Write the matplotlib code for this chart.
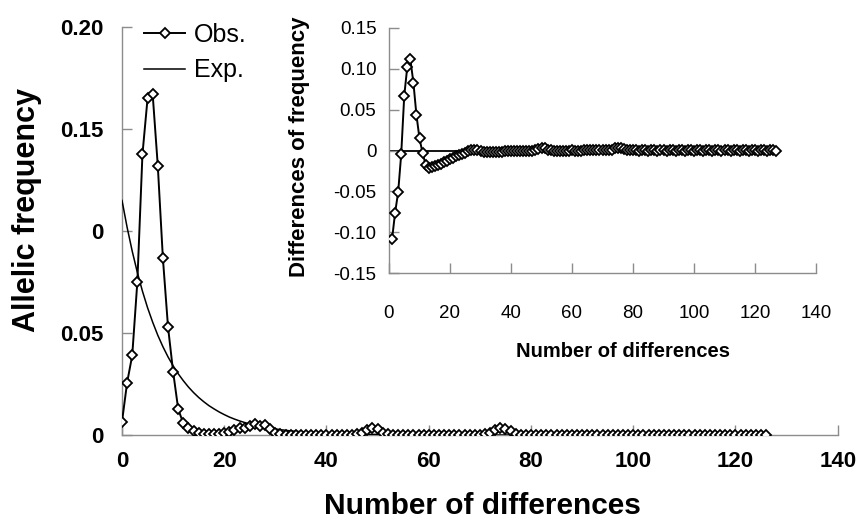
import matplotlib
matplotlib.use('Agg')
import matplotlib.pyplot as plt

plt.rcParams['font.family'] = ['Liberation Sans', 'DejaVu Sans']

# ---- data ----
x_main = list(range(0, 127))
obs = [
    0.0065, 0.0257, 0.0390, 0.0750, 0.1376, 0.1650, 0.1670, 0.1320, 0.0866, 0.0530,
    0.0310, 0.0126, 0.0057, 0.0035, 0.0020, 0.0008, 0.0003, 0.0003, 0.0004, 0.0006,
    0.0010, 0.0015, 0.0025, 0.0032, 0.0036, 0.0042, 0.0055, 0.0045, 0.0048, 0.0030,
    0.0012, 0.0004, 0.0002, 0.0001, 0.0001, 0.0002, 0.0001, 0.0001, 0.0002, 0.0001,
    0.0001, 0.0002, 0.0001, 0.0001, 0.0002, 0.0002, 0.0004, 0.0010, 0.0025, 0.0032,
    0.0028, 0.0012, 0.0004, 0.0002, 0.0001, 0.0002, 0.0001, 0.0001, 0.0001, 0.0002,
    0.0001, 0.0001, 0.0001, 0.0001, 0.0002, 0.0001, 0.0001, 0.0001, 0.0002, 0.0001,
    0.0002, 0.0005, 0.0010, 0.0025, 0.0035, 0.0028, 0.0020, 0.0006, 0.0002, 0.0001,
    0.0001, 0.0000, 0.0001, 0.0001, 0.0000, 0.0001, 0.0001, 0.0000, 0.0001, 0.0001,
    0.0000, 0.0001, 0.0001, 0.0000, 0.0001, 0.0001, 0.0000, 0.0001, 0.0001, 0.0000,
    0.0001, 0.0001, 0.0000, 0.0001, 0.0001, 0.0000, 0.0001, 0.0001, 0.0000, 0.0001,
    0.0001, 0.0000, 0.0001, 0.0001, 0.0000, 0.0001, 0.0001, 0.0000, 0.0001, 0.0001,
    0.0000, 0.0001, 0.0001, 0.0000, 0.0001, 0.0001, 0.0000,
]
exp = [
    0.1150, 0.1018, 0.0901, 0.0797, 0.0705, 0.0624, 0.0553, 0.0489, 0.0433, 0.0383,
    0.0339, 0.0300, 0.0266, 0.0235, 0.0208, 0.0184, 0.0163, 0.0144, 0.0128, 0.0113,
    0.0100, 0.0088, 0.0078, 0.0069, 0.0061, 0.0054, 0.0048, 0.0043, 0.0038, 0.0033,
    0.0030, 0.0026, 0.0023, 0.0020, 0.0018, 0.0016, 0.0014, 0.0013, 0.0011, 0.0010,
    0.0009, 0.0008, 0.0007, 0.0006, 0.0005, 0.0005, 0.0004, 0.0004, 0.0003, 0.0003,
    0.0003, 0.0002, 0.0002, 0.0002, 0.0002, 0.0002, 0.0001, 0.0001, 0.0001, 0.0001,
    0.0001, 0.0001, 0.0001, 0.0000, 0.0000, 0.0000, 0.0000, 0.0000, 0.0000, 0.0000,
    0.0000, 0.0000, 0.0000, 0.0000, 0.0000, 0.0000, 0.0000, 0.0000, 0.0000, 0.0000,
    0.0000, 0.0000, 0.0000, 0.0000, 0.0000, 0.0000, 0.0000, 0.0000, 0.0000, 0.0000,
    0.0000, 0.0000, 0.0000, 0.0000, 0.0000, 0.0000, 0.0000, 0.0000, 0.0000, 0.0000,
    0.0000, 0.0000, 0.0000, 0.0000, 0.0000, 0.0000, 0.0000, 0.0000, 0.0000, 0.0000,
    0.0000, 0.0000, 0.0000, 0.0000, 0.0000, 0.0000, 0.0000, 0.0000, 0.0000, 0.0000,
    0.0000, 0.0000, 0.0000, 0.0000, 0.0000, 0.0000, 0.0000,
]
x_inset = list(range(1, 128))
diff = [
    -0.1085, -0.0761, -0.0511, -0.0047, 0.0671, 0.1026, 0.1117, 0.0831, 0.0433, 0.0147,
    -0.0029, -0.0174, -0.0209, -0.0200, -0.0188, -0.0176, -0.0160, -0.0141, -0.0124, -0.0107,
    -0.0090, -0.0073, -0.0053, -0.0037, -0.0025, -0.0012, 0.0007, 0.0002, 0.0010, -0.0003,
    -0.0018, -0.0022, -0.0021, -0.0019, -0.0017, -0.0014, -0.0013, -0.0012, -0.0009, -0.0009,
    -0.0008, -0.0006, -0.0006, -0.0005, -0.0003, -0.0003, 0.0000, 0.0006, 0.0022, 0.0029,
    0.0025, 0.0010, 0.0002, 0.0000, -0.0001, 0.0000, 0.0000, 0.0000, 0.0000, 0.0001,
    0.0000, 0.0000, 0.0000, 0.0001, 0.0002, 0.0001, 0.0001, 0.0001, 0.0002, 0.0001,
    0.0002, 0.0005, 0.0010, 0.0025, 0.0035, 0.0028, 0.0020, 0.0006, 0.0002, 0.0001,
    0.0001, 0.0000, 0.0001, 0.0001, 0.0000, 0.0001, 0.0001, 0.0000, 0.0001, 0.0001,
    0.0000, 0.0001, 0.0001, 0.0000, 0.0001, 0.0001, 0.0000, 0.0001, 0.0001, 0.0000,
    0.0001, 0.0001, 0.0000, 0.0001, 0.0001, 0.0000, 0.0001, 0.0001, 0.0000, 0.0001,
    0.0001, 0.0000, 0.0001, 0.0001, 0.0000, 0.0001, 0.0001, 0.0000, 0.0001, 0.0001,
    0.0000, 0.0001, 0.0001, 0.0000, 0.0001, 0.0001, 0.0000,
]
main_yticks = [0, 0.05, 0.10, 0.15, 0.20]
main_yticklabels = ['0', '0.05', '0', '0.15', '0.20']
xticks = [0, 20, 40, 60, 80, 100, 120, 140]
inset_yticks = [-0.15, -0.10, -0.05, 0, 0.05, 0.10, 0.15]
inset_yticklabels = ['-0.15', '-0.10', '-0.05', '0', '0.05', '0.10', '0.15']

W, H = 858, 519
fig = plt.figure(figsize=(W / 100, H / 100), dpi=100)
GRAY = '#8c8c8c'

# ---- main axes ----
ax = fig.add_axes([122 / W, 1 - 435 / H, (837.7 - 122) / W, (435 - 27) / H])
l_exp, = ax.plot(x_main, exp, color='black', lw=1.1, label='Exp.', zorder=2)
l_obs, = ax.plot(x_main, obs, color='black', lw=1.4, marker='D', ms=4.8,
                 mfc='white', mec='black', mew=1.3, label='Obs.', zorder=3)
ax.set_xlim(0, 140)
ax.set_ylim(0, 0.20)
ax.set_xticks(xticks)
ax.set_xticklabels([str(t) for t in xticks], fontweight='bold', fontsize=16)
ax.set_yticks(main_yticks)
ax.set_yticklabels(main_yticklabels, fontweight='bold', fontsize=16)
for s in ['top', 'right']:
    ax.spines[s].set_visible(False)
for s in ['left', 'bottom']:
    ax.spines[s].set_color(GRAY)
    ax.spines[s].set_linewidth(1.0)
ax.tick_params(axis='both', direction='in', length=7, width=1.0, color=GRAY)
ax.tick_params(axis='x', pad=11.5)
ax.tick_params(axis='y', pad=13.5)
for sp in ax.spines.values():
    sp.set_zorder(1)

leg = ax.legend(handles=[l_obs, l_exp], loc='upper left',
                bbox_to_anchor=(144 / W, 1 - 23 / H), bbox_transform=fig.transFigure,
                frameon=False, fontsize=18, handlelength=1.65, handletextpad=0.35,
                labelspacing=0.45, borderpad=0, borderaxespad=0)

fig.text(27.5 / W, 1 - 210 / H, 'Allelic frequency', rotation=90, ha='center',
         va='center', fontsize=22, fontweight='bold')
fig.text(482.5 / W, 1 - 513.5 / H, 'Number of differences', ha='center',
         va='baseline', fontsize=21.5, fontweight='bold')

# ---- inset axes ----
ax2 = fig.add_axes([389 / W, 1 - 273 / H, (816 - 389) / W, (273 - 28) / H])
ax2.patch.set_alpha(0)
ax2.hlines(0, 0, x_inset[-1], color='black', lw=1.3, zorder=1)
ax2.plot(x_inset, diff, color='black', lw=1.4, marker='D', ms=4.8,
         mfc='white', mec='black', mew=1.3, zorder=3)
ax2.set_xlim(0, 140)
ax2.set_ylim(-0.15, 0.15)
ax2.set_xticks(xticks)
ax2.set_xticklabels([str(t) for t in xticks], fontsize=13.5)
ax2.set_yticks(inset_yticks)
ax2.set_yticklabels(inset_yticklabels, fontsize=13.5)
for s in ['top', 'right']:
    ax2.spines[s].set_visible(False)
for s in ['left', 'bottom']:
    ax2.spines[s].set_color(GRAY)
    ax2.spines[s].set_linewidth(1.0)
ax2.tick_params(axis='both', direction='in', length=7, width=1.0, color=GRAY)
ax2.tick_params(axis='x', pad=23)
ax2.tick_params(axis='y', pad=9)

fig.text(300 / W, 1 - 146.5 / H, 'Differences of frequency', rotation=90,
         ha='center', va='center', fontsize=16, fontweight='bold')
fig.text(623.5 / W, 1 - 356.7 / H, 'Number of differences', ha='center',
         va='baseline', fontsize=14.5, fontweight='bold')

fig.savefig('out.png', dpi=100)
